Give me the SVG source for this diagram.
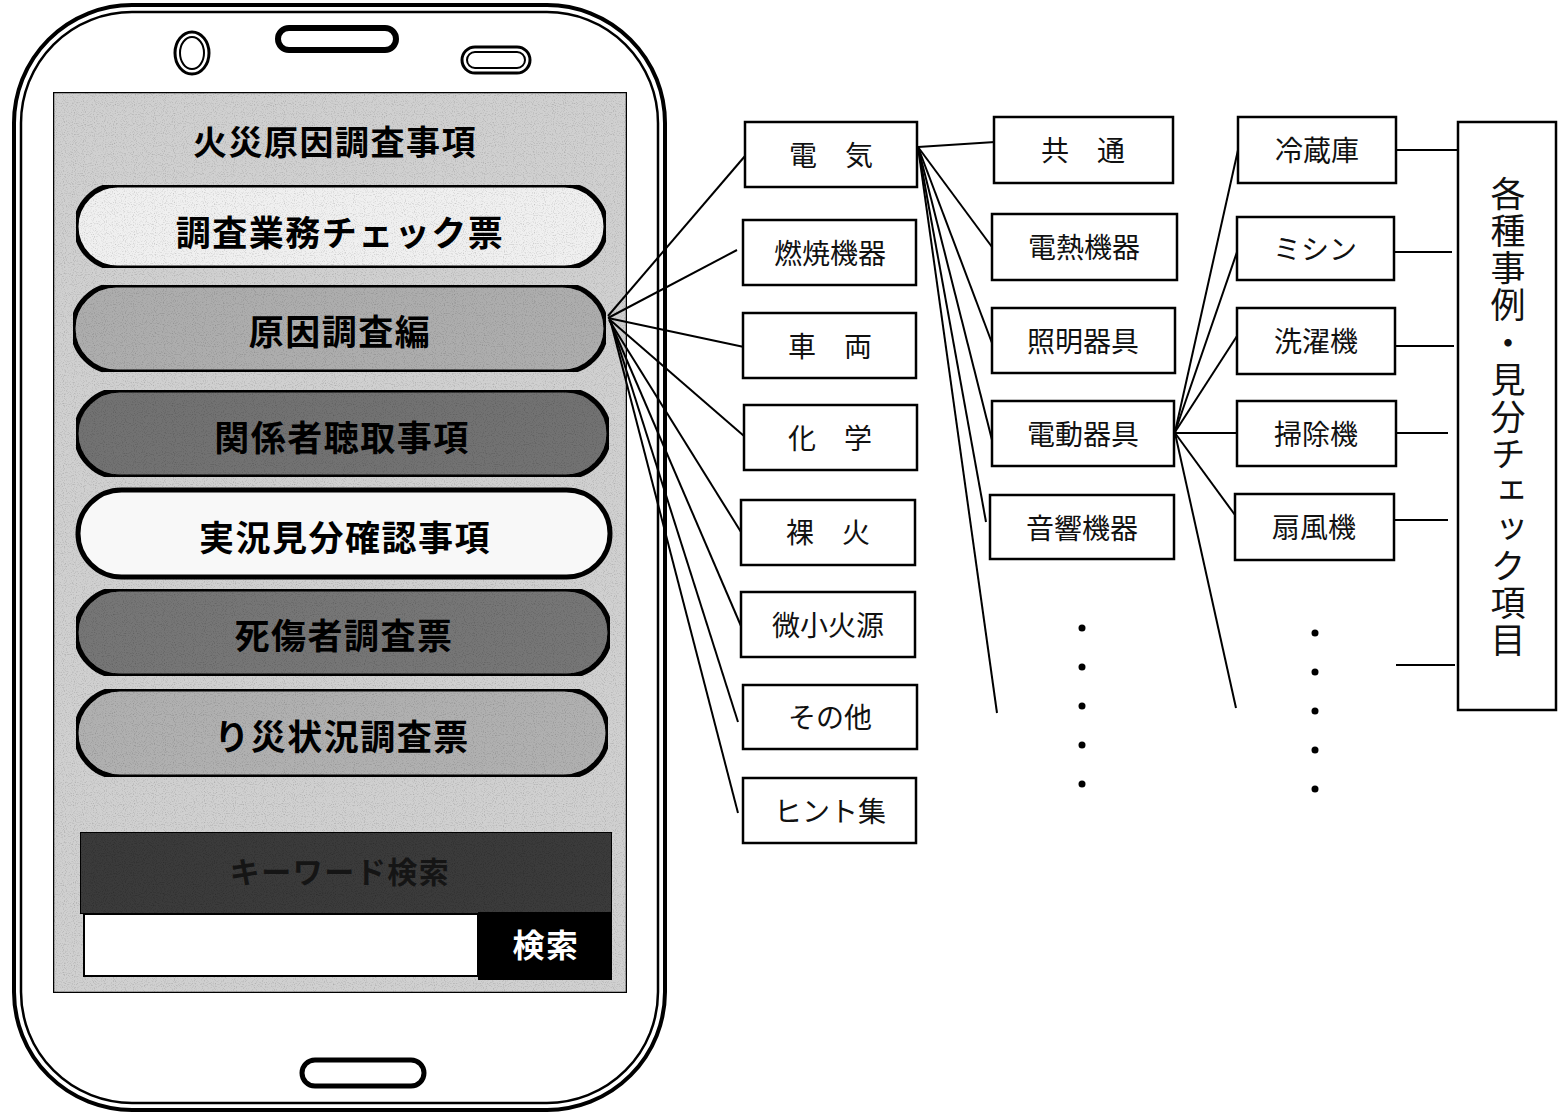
<svg xmlns="http://www.w3.org/2000/svg" width="1558" height="1115" viewBox="0 0 1558 1115">
<style>
.ln{stroke:#000;stroke-width:2;fill:none}
.bx{fill:#fff;stroke:#000;stroke-width:2.5}
.bt{font-family:"Noto Sans CJK JP","Noto Sans",sans-serif;font-size:28px;text-anchor:middle;dominant-baseline:central;fill:#111}
.pt{font-family:"Noto Sans CJK JP","Noto Sans",sans-serif;font-weight:bold;font-size:35px;text-anchor:middle;dominant-baseline:central;fill:#000;letter-spacing:1.5px}
.btn{stroke:#000;stroke-width:5}
.dot{fill:#000}
</style>
<defs>
<filter id="grain" x="0" y="0" width="100%" height="100%">
<feTurbulence type="fractalNoise" baseFrequency="0.9" numOctaves="1" seed="3" result="n"/>
<feColorMatrix in="n" type="matrix" values="0 0 0 0 0  0 0 0 0 0  0 0 0 0 0  0 0 0 -1.0 0.5" result="a"/>
<feComposite in="a" in2="SourceGraphic" operator="in" result="g"/>
<feMerge><feMergeNode in="SourceGraphic"/><feMergeNode in="g"/></feMerge>
</filter>
</defs>
<rect width="1558" height="1115" fill="#fff"/>

<g id="phone">
<rect x="14" y="5" width="651" height="1105" rx="118" ry="118" fill="#fff" stroke="#000" stroke-width="4"/>
<rect x="21" y="12" width="637" height="1091" rx="111" ry="111" fill="none" stroke="#000" stroke-width="2.5"/>
<ellipse cx="192" cy="53" rx="17" ry="21" fill="#fff" stroke="#000" stroke-width="3"/>
<ellipse cx="192" cy="53" rx="12" ry="16" fill="none" stroke="#000" stroke-width="2"/>
<rect x="278" y="28" width="118" height="22" rx="11" fill="#fff" stroke="#000" stroke-width="6"/>
<rect x="462" y="47" width="68" height="26" rx="13" fill="#fff" stroke="#000" stroke-width="3"/>
<rect x="467" y="52" width="58" height="16" rx="8" fill="none" stroke="#000" stroke-width="2"/>
<rect x="302" y="1060" width="122" height="26" rx="13" fill="#fff" stroke="#000" stroke-width="5"/>
</g>

<g id="screen">
<rect x="53" y="92" width="574" height="901" fill="#d0d0d0" stroke="#000" stroke-width="2.5" filter="url(#grain)"/>
<text class="pt" x="335" y="140" style="font-size:34px">火災原因調査事項</text>
</g>

<g id="btn1"><rect class="btn" x="76" y="185" width="530" height="83" rx="41.5" fill="#f0f0f0" filter="url(#grain)"/><text class="pt" x="340" y="230">調査業務チェック票</text></g>
<g id="btn2"><rect class="btn" x="73" y="285" width="533" height="87" rx="43.5" fill="#adadad" filter="url(#grain)"/><text class="pt" x="340" y="329">原因調査編</text></g>
<g id="btn3"><rect class="btn" x="76" y="390" width="533" height="87" rx="43.5" fill="#727272" filter="url(#grain)"/><text class="pt" x="342" y="435">関係者聴取事項</text></g>
<g id="btn4"><rect class="btn" x="78" y="490" width="532" height="87" rx="43.5" fill="#f8f8f8"/><text class="pt" x="345" y="535">実況見分確認事項</text></g>
<g id="btn5"><rect class="btn" x="76" y="589" width="534" height="87" rx="43.5" fill="#767676" filter="url(#grain)"/><text class="pt" x="344" y="633">死傷者調査票</text></g>
<g id="btn6"><rect class="btn" x="76" y="689" width="532" height="88" rx="44" fill="#b0b0b0" filter="url(#grain)"/><text class="pt" x="342" y="734">り災状況調査票</text></g>

<g id="search">
<rect x="80" y="832" width="532" height="82" fill="#3a3a3a" stroke="#000" stroke-width="2" filter="url(#grain)"/>
<text class="pt" x="340" y="870" style="font-size:30px;fill:#151515">キーワード検索</text>
<rect x="84" y="914" width="394" height="62" fill="#fff" stroke="#000" stroke-width="2"/>
<rect x="478" y="912" width="134" height="68" fill="#000"/>
<text class="pt" x="546" y="943" style="font-size:32px;fill:#fff">検索</text>
</g>

<g id="connectors">
<line class="ln" x1="608" y1="316" x2="745" y2="156"/>
<line class="ln" x1="608" y1="318" x2="737" y2="250"/>
<line class="ln" x1="608" y1="318" x2="744" y2="347"/>
<line class="ln" x1="609" y1="319" x2="744" y2="436"/>
<line class="ln" x1="609" y1="320" x2="741" y2="532"/>
<line class="ln" x1="610" y1="321" x2="741" y2="626"/>
<line class="ln" x1="611" y1="322" x2="738" y2="722"/>
<line class="ln" x1="611" y1="323" x2="738" y2="813"/>

<line class="ln" x1="918" y1="147" x2="995" y2="142"/>
<line class="ln" x1="918" y1="147" x2="992" y2="247"/>
<line class="ln" x1="918" y1="147" x2="992" y2="343"/>
<line class="ln" x1="918" y1="147" x2="992" y2="440"/>
<line class="ln" x1="918" y1="147" x2="986" y2="522"/>
<line class="ln" x1="918" y1="147" x2="997" y2="713"/>

<line class="ln" x1="1175" y1="432" x2="1238" y2="150"/>
<line class="ln" x1="1175" y1="432" x2="1237" y2="252"/>
<line class="ln" x1="1175" y1="432" x2="1237" y2="336"/>
<line class="ln" x1="1175" y1="433" x2="1237" y2="433"/>
<line class="ln" x1="1175" y1="433" x2="1235" y2="515"/>
<line class="ln" x1="1175" y1="433" x2="1236" y2="708"/>

<line class="ln" x1="1396" y1="150" x2="1458" y2="150"/>
<line class="ln" x1="1394" y1="252" x2="1452" y2="252"/>
<line class="ln" x1="1395" y1="346" x2="1454" y2="346"/>
<line class="ln" x1="1390" y1="433" x2="1448" y2="433"/>
<line class="ln" x1="1390" y1="520" x2="1448" y2="520"/>
<line class="ln" x1="1396" y1="665" x2="1455" y2="665"/>
</g>

<g id="n-denki"><rect class="bx" x="745" y="122" width="172" height="65"/><text class="bt" x="831" y="154">電　気</text></g>
<g id="n-nensho"><rect class="bx" x="743" y="220" width="173" height="65"/><text class="bt" x="830" y="252">燃焼機器</text></g>
<g id="n-sharyo"><rect class="bx" x="743" y="313" width="173" height="65"/><text class="bt" x="830" y="345">車　両</text></g>
<g id="n-kagaku"><rect class="bx" x="744" y="405" width="173" height="65"/><text class="bt" x="830" y="437">化　学</text></g>
<g id="n-rakka"><rect class="bx" x="741" y="500" width="174" height="65"/><text class="bt" x="828" y="531">裸　火</text></g>
<g id="n-bisho"><rect class="bx" x="741" y="592" width="174" height="65"/><text class="bt" x="828" y="624">微小火源</text></g>
<g id="n-sonota"><rect class="bx" x="743" y="685" width="174" height="64"/><text class="bt" x="830" y="716">その他</text></g>
<g id="n-hint"><rect class="bx" x="743" y="778" width="173" height="65"/><text class="bt" x="830" y="810">ヒント集</text></g>

<g id="n-kyotsu"><rect class="bx" x="994" y="117" width="179" height="66"/><text class="bt" x="1083" y="149">共　通</text></g>
<g id="n-dennetsu"><rect class="bx" x="992" y="214" width="185" height="66"/><text class="bt" x="1084" y="246">電熱機器</text></g>
<g id="n-shomei"><rect class="bx" x="992" y="308" width="183" height="65"/><text class="bt" x="1083" y="340">照明器具</text></g>
<g id="n-dendo"><rect class="bx" x="992" y="401" width="182" height="65"/><text class="bt" x="1083" y="433">電動器具</text></g>
<g id="n-onkyo"><rect class="bx" x="990" y="495" width="184" height="64"/><text class="bt" x="1082" y="527">音響機器</text></g>

<g id="n-reizoko"><rect class="bx" x="1238" y="117" width="158" height="66"/><text class="bt" x="1317" y="149">冷蔵庫</text></g>
<g id="n-mishin"><rect class="bx" x="1237" y="217" width="157" height="63"/><text class="bt" x="1315" y="248">ミシン</text></g>
<g id="n-sentaku"><rect class="bx" x="1237" y="308" width="158" height="66"/><text class="bt" x="1316" y="340">洗濯機</text></g>
<g id="n-soji"><rect class="bx" x="1237" y="401" width="159" height="65"/><text class="bt" x="1316" y="433">掃除機</text></g>
<g id="n-senpuki"><rect class="bx" x="1235" y="494" width="159" height="66"/><text class="bt" x="1314" y="526">扇風機</text></g>

<g id="n-jirei"><rect class="bx" x="1458" y="122" width="98" height="588"/><text x="1508" y="176" style="writing-mode:vertical-rl;font-family:'Noto Sans CJK JP','Noto Sans',sans-serif;font-size:35px;fill:#111;letter-spacing:2.2px">各種事例・見分チェック項目</text></g>

<g id="dots">
<circle class="dot" cx="1082" cy="628" r="3.5"/><circle class="dot" cx="1082" cy="667" r="3.5"/><circle class="dot" cx="1082" cy="706" r="3.5"/><circle class="dot" cx="1082" cy="745" r="3.5"/><circle class="dot" cx="1082" cy="784" r="3.5"/>
<circle class="dot" cx="1315" cy="633" r="3.5"/><circle class="dot" cx="1315" cy="672" r="3.5"/><circle class="dot" cx="1315" cy="711" r="3.5"/><circle class="dot" cx="1315" cy="750" r="3.5"/><circle class="dot" cx="1315" cy="789" r="3.5"/>
</g>
</svg>
